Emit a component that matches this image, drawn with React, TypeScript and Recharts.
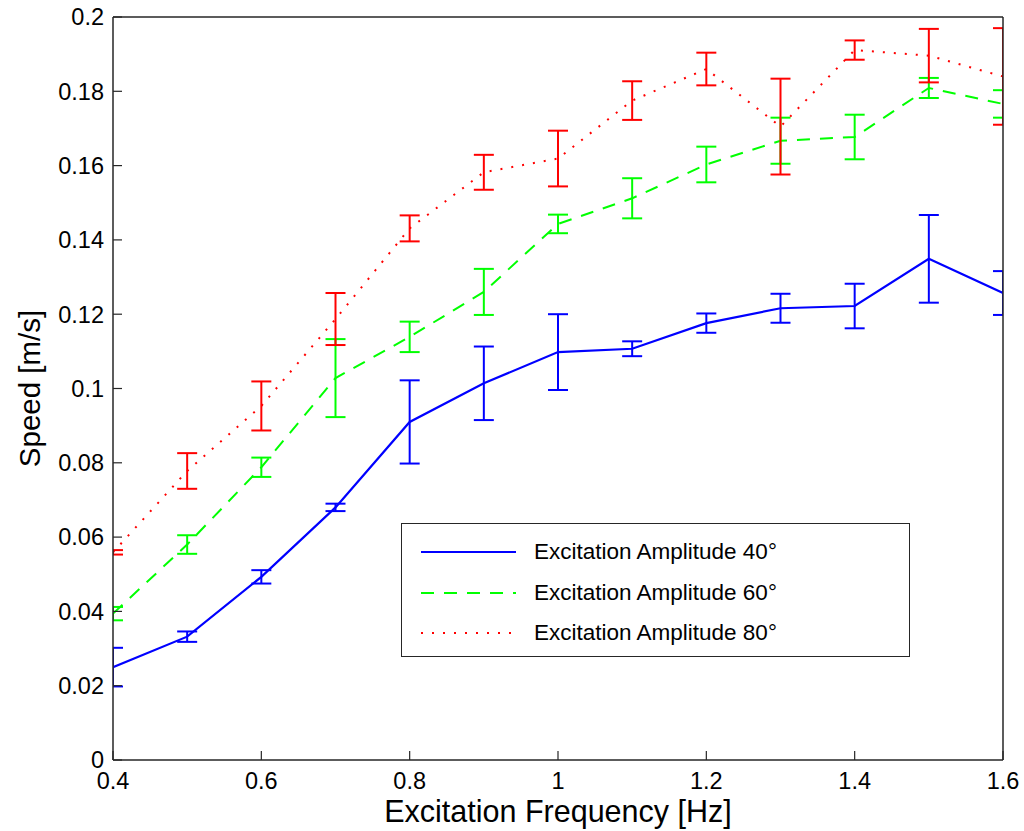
import React from "react";
import { LineChart, Line, XAxis, YAxis, ErrorBar, Legend } from "recharts";

// excitation frequency [Hz]
const freq = [0.4, 0.5, 0.6, 0.7, 0.8, 0.9, 1.0, 1.1, 1.2, 1.3, 1.4, 1.5, 1.6];

// mean speed [m/s] and error half-width, per excitation amplitude
const speed40 = [0.025, 0.0332, 0.0493, 0.068, 0.091, 0.1014, 0.1098, 0.1107, 0.1176, 0.1216, 0.1222, 0.1349, 0.1257];
const err40 = [0.0052, 0.0014, 0.0018, 0.001, 0.0112, 0.0099, 0.0102, 0.002, 0.0026, 0.0039, 0.006, 0.0118, 0.0059];

const speed60 = [0.0394, 0.058, 0.0788, 0.1028, 0.1139, 0.126, 0.1443, 0.1512, 0.1603, 0.1667, 0.1677, 0.1809, 0.1766];
const err60 = [0.0018, 0.0025, 0.0026, 0.0105, 0.0041, 0.0062, 0.0025, 0.0054, 0.0048, 0.0062, 0.006, 0.0027, 0.0037];

const speed80 = [0.0559, 0.0778, 0.0953, 0.1187, 0.1431, 0.1582, 0.1619, 0.1775, 0.186, 0.1705, 0.1911, 0.1896, 0.184];
const err80 = [0.0006, 0.0048, 0.0066, 0.007, 0.0035, 0.0047, 0.0075, 0.0052, 0.0044, 0.0129, 0.0026, 0.0072, 0.013];

const xTicks = [0.4, 0.6, 0.8, 1, 1.2, 1.4, 1.6];
const yTicks = [0, 0.02, 0.04, 0.06, 0.08, 0.1, 0.12, 0.14, 0.16, 0.18, 0.2];

const series = [
  { key: "s40", err: "e40", name: "Excitation Amplitude 40°", color: "#0000ff", dash: undefined, width: 2.2 },
  { key: "s60", err: "e60", name: "Excitation Amplitude 60°", color: "#00ff00", dash: "13 10", width: 2 },
  { key: "s80", err: "e80", name: "Excitation Amplitude 80°", color: "#ff0000", dash: "2 9", width: 2 },
];

const data = freq.map((f, i) => ({
  f,
  s40: speed40[i],
  e40: err40[i],
  s60: speed60[i],
  e60: err60[i],
  s80: speed80[i],
  e80: err80[i],
}));

const font = '"Liberation Sans", Arial, Helvetica, sans-serif';
const frame = "#262626";
const fmt = (v: number) => String(Number(v.toFixed(2)));

// chart box (body margin removed, so these are page pixels)
const W = 1024;
const H = 831;
const margin = { top: 16, right: 20, bottom: 8, left: 18 };
const yAxisW = 95;
const xAxisH = 63;

function LegendBox({ payload }: any) {
  const items = payload || [];
  return (
    <div
      style={{
        width: 509,
        height: 134,
        boxSizing: "border-box",
        border: `1.5px solid ${frame}`,
        background: "#fff",
        position: "relative",
        fontFamily: font,
        fontSize: 22.5,
        color: "#000",
      }}
    >
      {items.map((p: any, i: number) => {
        const s = series.find((d) => d.key === p.dataKey) || series[i];
        return (
          <div
            key={s.key}
            style={{ position: "absolute", left: 0, top: 13 + i * 40.5, height: 30, display: "flex", alignItems: "center" }}
          >
            <svg width={115} height={30} style={{ display: "block" }}>
              <line x1={19} x2={114} y1={15} y2={15} stroke={s.color} strokeWidth={s.width} strokeDasharray={s.dash} />
            </svg>
            <span style={{ marginLeft: 17, whiteSpace: "nowrap" }}>{s.name}</span>
          </div>
        );
      })}
    </div>
  );
}

export default function App() {
  const tickStyle = { fontSize: 23.5, fill: "#000", fontFamily: font };
  const plotX = margin.left + yAxisW;
  const plotY = margin.top + 1;
  const plotW = W - margin.right - 1 - plotX;
  const plotH = H - margin.bottom - xAxisH - plotY;
  return (
    <div style={{ width: W, height: H, fontFamily: font, background: "#fff" }}>
      <style>{`body { margin: 0; } .recharts-errorBars { clip-path: url(#plotClip); }`}</style>
      <LineChart width={W} height={H} data={data} margin={margin}>
        <defs>
          <clipPath id="plotClip">
            <rect x={plotX} y={plotY} width={plotW} height={plotH} />
          </clipPath>
        </defs>
        <XAxis
          dataKey="f"
          type="number"
          domain={[0.4, 1.6]}
          ticks={xTicks}
          allowDataOverflow
          tickFormatter={fmt}
          height={xAxisH}
          tickSize={-9}
          tickMargin={21}
          tick={tickStyle}
          axisLine={{ stroke: frame, strokeWidth: 1.5 }}
          tickLine={{ stroke: frame, strokeWidth: 1.2 }}
          label={{
            value: "Excitation Frequency [Hz]",
            position: "insideBottom",
            offset: 1,
            style: { fontSize: 30.5, fill: "#000", fontFamily: font },
          }}
        />
        <XAxis
          xAxisId="top"
          orientation="top"
          type="number"
          domain={[0.4, 1.6]}
          ticks={xTicks}
          allowDataOverflow
          height={1}
          tickSize={-9}
          tick={false}
          axisLine={{ stroke: frame, strokeWidth: 1.5 }}
          tickLine={{ stroke: frame, strokeWidth: 1.2 }}
        />
        <YAxis
          type="number"
          domain={[0, 0.2]}
          ticks={yTicks}
          tickFormatter={fmt}
          width={yAxisW}
          tickSize={-9}
          tickMargin={18}
          tick={tickStyle}
          axisLine={{ stroke: frame, strokeWidth: 1.5 }}
          tickLine={{ stroke: frame, strokeWidth: 1.2 }}
          label={{
            value: "Speed [m/s]",
            angle: -90,
            position: "insideLeft",
            offset: 12,
            style: { fontSize: 29.5, fill: "#000", fontFamily: font, textAnchor: "middle" },
          }}
        />
        <YAxis
          yAxisId="right"
          orientation="right"
          type="number"
          domain={[0, 0.2]}
          ticks={yTicks}
          width={1}
          tickSize={-9}
          tick={false}
          axisLine={{ stroke: frame, strokeWidth: 1.5 }}
          tickLine={{ stroke: frame, strokeWidth: 1.2 }}
        />
        <Legend
          layout="vertical"
          align="center"
          verticalAlign="middle"
          content={<LegendBox />}
          wrapperStyle={{ position: "absolute", left: 401, top: 523, width: 509, height: 134 }}
        />
        {series.map((s) => (
          <Line
            key={s.key}
            dataKey={s.key}
            name={s.name}
            stroke={s.color}
            strokeWidth={s.width}
            strokeDasharray={s.dash}
            dot={false}
            activeDot={false}
            isAnimationActive={false}
          >
            <ErrorBar
              dataKey={s.err}
              direction="y"
              width={10}
              stroke={s.color}
              strokeWidth={2}
              isAnimationActive={false}
            />
          </Line>
        ))}
      </LineChart>
    </div>
  );
}
